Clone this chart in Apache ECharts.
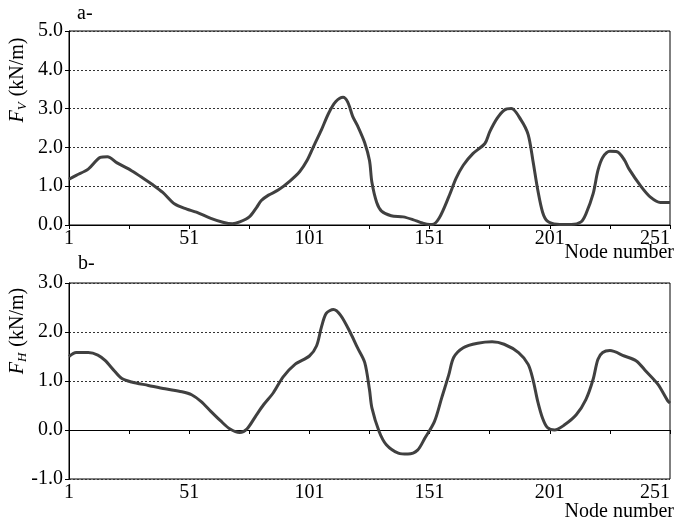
<!DOCTYPE html>
<html>
<head>
<meta charset="utf-8">
<style>
  html, body, #main { margin: 0; width: 677px; height: 525px; background: #fff; }
</style>
<script src="https://cdn.jsdelivr.net/npm/echarts@6/dist/echarts.min.js"></script>
</head>
<body>
<div id="main"></div>
<script>
// panel a: vertical force F_V along the nodes
const nodesV = [1, 4, 9, 14, 17, 21, 27, 32, 36, 40, 45, 50, 54, 60, 65, 69, 72, 76, 79, 81, 84, 88, 93, 97, 100,
  103, 106, 109, 112, 115, 117, 119, 121, 124, 126, 127, 129, 131, 135, 140, 144, 148, 151, 152, 155, 159, 162,
  165, 169, 174, 176, 179, 182, 185, 189, 192, 194, 196, 198, 200, 204, 210, 214, 216, 219, 221, 223, 226, 229,
  232, 234, 239, 243, 247, 251]
const valuesV = [1.18, 1.28, 1.44, 1.74, 1.76, 1.60, 1.40, 1.20, 1.03, 0.84, 0.54, 0.41, 0.33, 0.17, 0.07, 0.03,
  0.08, 0.21, 0.45, 0.63, 0.77, 0.90, 1.14, 1.38, 1.66, 2.06, 2.45, 2.88, 3.18, 3.29, 3.16, 2.80, 2.56, 2.12,
  1.66, 1.10, 0.58, 0.36, 0.24, 0.21, 0.14, 0.05, 0.01, 0.01, 0.18, 0.73, 1.20, 1.54, 1.84, 2.10, 2.40, 2.74,
  2.96, 3.00, 2.71, 2.33, 1.65, 0.90, 0.33, 0.10, 0.02, 0.01, 0.08, 0.28, 0.80, 1.40, 1.74, 1.90, 1.89, 1.68,
  1.44, 0.99, 0.71, 0.58, 0.58]

// panel b: horizontal force F_H along the nodes
const nodesH = [1, 4, 9, 13, 16, 20, 23, 27, 34, 41, 48, 52, 56, 60, 64, 68, 72, 75, 79, 82, 86, 90, 95, 101,
  104, 106, 108, 111, 114, 118, 121, 124, 126, 127, 130, 133, 138, 142, 146, 149, 153, 156, 159, 161, 165, 171,
  177, 182, 188, 192, 194, 196, 198, 200, 203, 207, 212, 216, 219, 221, 223, 226, 232, 237, 241, 246, 250, 251]
const valuesH = [1.50, 1.58, 1.58, 1.53, 1.42, 1.20, 1.05, 0.98, 0.91, 0.84, 0.78, 0.72, 0.58, 0.38, 0.19, 0.02,
  -0.05, 0.02, 0.31, 0.52, 0.76, 1.08, 1.34, 1.51, 1.72, 2.10, 2.38, 2.46, 2.34, 1.99, 1.68, 1.38, 0.82, 0.45,
  -0.03, -0.30, -0.47, -0.49, -0.41, -0.17, 0.17, 0.65, 1.13, 1.48, 1.68, 1.77, 1.80, 1.75, 1.58, 1.34, 1.03,
  0.58, 0.24, 0.05, 0.00, 0.10, 0.31, 0.62, 1.03, 1.44, 1.58, 1.62, 1.51, 1.41, 1.20, 0.93, 0.60, 0.55]

const xLabels = ['1', '51', '101', '151', '201', '251']

const font = '"Liberation Serif", "Times New Roman", serif'

// axis runs on node-1 so ticks can start at 0 with interval 25
const pairs = (nodes, vals) => nodes.map((n, i) => [n - 1, vals[i]])

function xAxis(gridIndex) {
  return {
    type: 'value', gridIndex, min: 0, max: 250, interval: 25,
    axisLine: { lineStyle: { color: '#000', width: 1 } },
    axisTick: { show: true, length: 4, lineStyle: { color: '#000' } },
    axisLabel: {
      fontFamily: font, fontSize: 20, color: '#000', margin: 4, alignMaxLabel: 'right',
      formatter: v => v % 50 === 0 ? xLabels[v / 50] : ''
    },
    splitLine: { show: false }
  }
}

function yAxis(gridIndex, min, max) {
  return {
    type: 'value', gridIndex, min, max, interval: 1,
    axisLine: { show: true, lineStyle: { color: '#000', width: 1 } },
    axisTick: { show: true, length: 4, lineStyle: { color: '#000' } },
    axisLabel: { fontFamily: font, fontSize: 20, color: '#000', margin: 6, formatter: v => v.toFixed(1) },
    splitLine: { show: true, lineStyle: { color: '#333', type: [2, 2], width: 1 } }
  }
}

const lineStyle = { color: '#404040', width: 3 }

function yName(sub, y) {
  return {
    type: 'text', x: 18, y, rotation: Math.PI / 2,
    style: {
      text: '{f|F}{s|' + sub + '} (kN/m)', font: '20px ' + font, fill: '#000', align: 'center', verticalAlign: 'middle',
      rich: {
        f: { fontFamily: font, fontSize: 20, fontStyle: 'italic' },
        s: { fontFamily: font, fontSize: 13, fontStyle: 'italic', verticalAlign: 'bottom', padding: [10, 1, 0, 0] }
      }
    }
  }
}

function xName(y) {
  return {
    type: 'text', x: 674, y,
    style: { text: 'Node number', font: '20px ' + font, fill: '#000', align: 'right', verticalAlign: 'top' }
  }
}

const chart = echarts.init(document.getElementById('main'), null, { renderer: 'canvas' })
chart.setOption({
  animation: false,
  backgroundColor: '#fff',
  grid: [
    { left: 69, right: 7, top: 31, height: 194, show: true, borderColor: '#000', borderWidth: 1, containLabel: false, outerBoundsMode: 'none' },
    { left: 69, right: 7, top: 283, height: 196, show: true, borderColor: '#000', borderWidth: 1, containLabel: false, outerBoundsMode: 'none' }
  ],
  xAxis: [xAxis(0), xAxis(1)],
  yAxis: [yAxis(0, 0, 5), yAxis(1, -1, 3)],
  series: [
    { type: 'line', xAxisIndex: 0, yAxisIndex: 0, data: pairs(nodesV, valuesV), smooth: 0.3, showSymbol: false, lineStyle },
    { type: 'line', xAxisIndex: 1, yAxisIndex: 1, data: pairs(nodesH, valuesH), smooth: 0.3, showSymbol: false, lineStyle }
  ],
  graphic: [
    { type: 'text', left: 77, top: 4, style: { text: 'a-', font: '20px ' + font, fill: '#000' } },
    { type: 'text', left: 78, top: 254, style: { text: 'b-', font: '20px ' + font, fill: '#000' } },
    yName('V', 80),
    yName('H', 331),
    xName(243),
    xName(502)
  ]
})
</script>
</body>
</html>
